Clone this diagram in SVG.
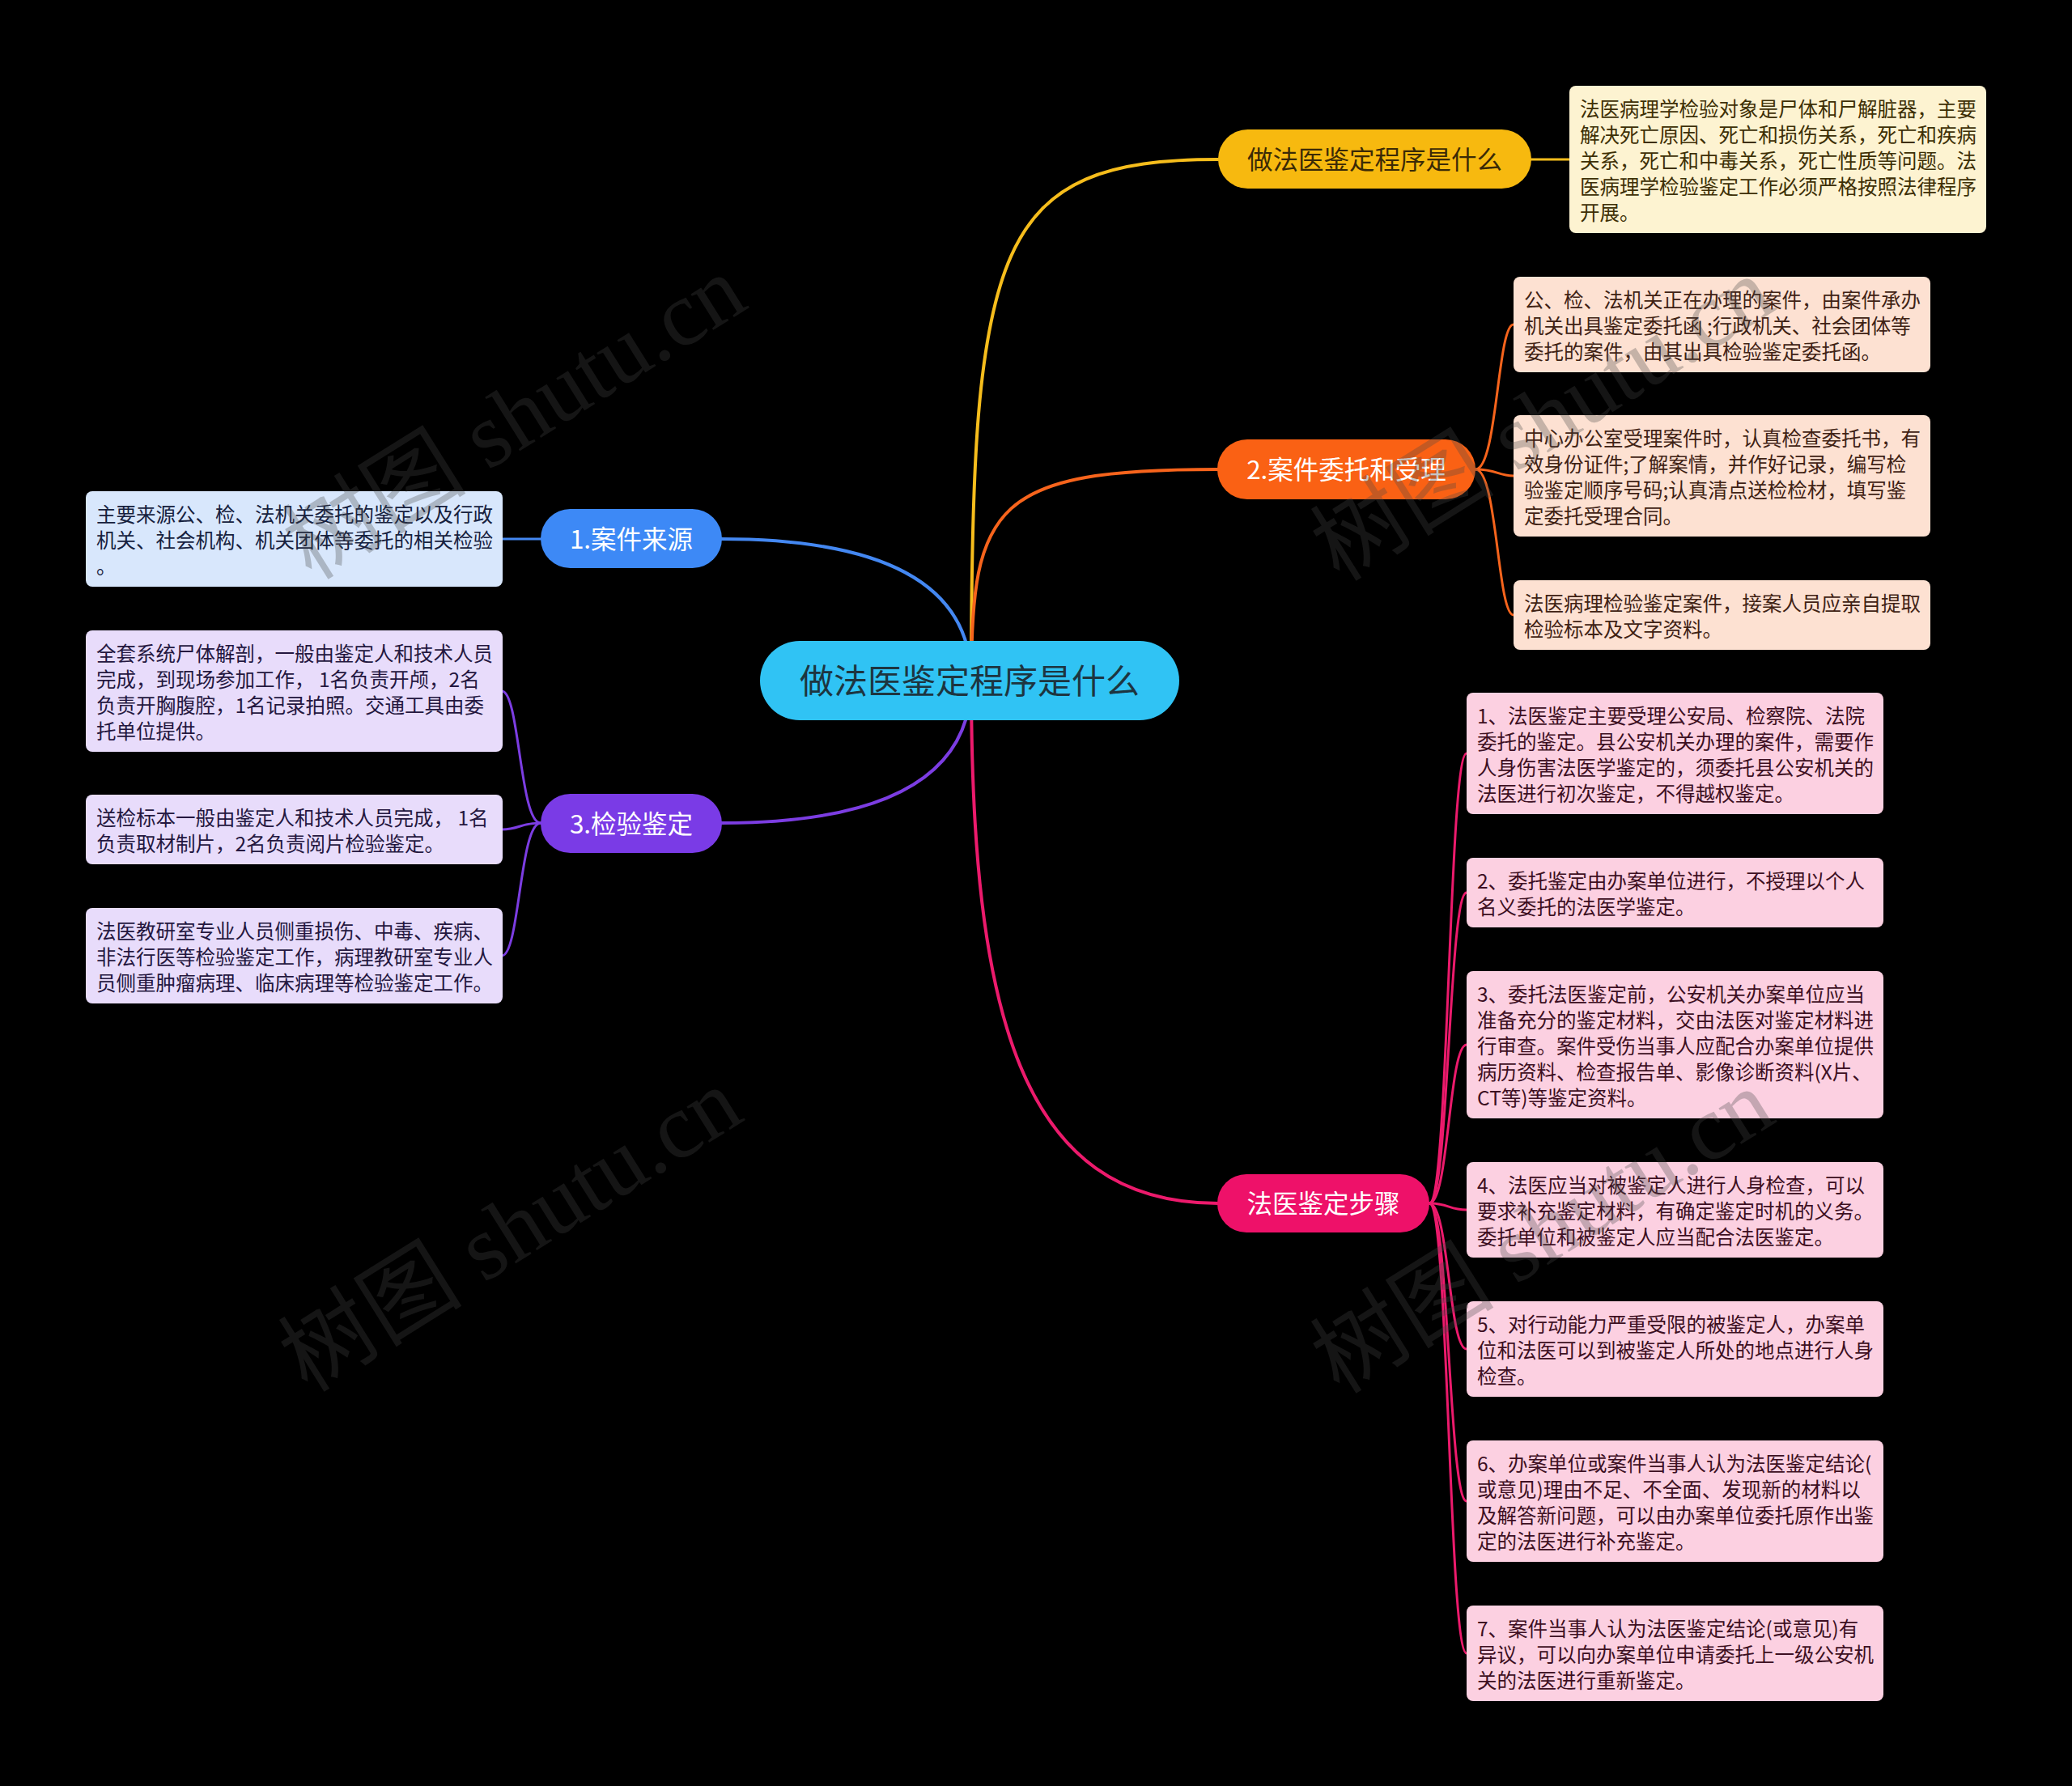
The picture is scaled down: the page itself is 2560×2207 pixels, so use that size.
<svg xmlns="http://www.w3.org/2000/svg" width="2560" height="2207" viewBox="0 0 2560 2207">
<style>
.t{font-family:"Noto Sans CJK SC","Liberation Sans",sans-serif;font-size:24.5px}
.pt{font-family:"Noto Sans CJK SC","Liberation Sans",sans-serif;font-size:31.5px;text-anchor:middle}
.c{fill:none;stroke-linecap:round}
.m{stroke-width:4}
.l{stroke-width:3}
.wm{font-family:"Liberation Serif","Noto Sans CJK SC",serif;font-size:114px;fill:#474747;opacity:0.3}
</style>
<rect x="0" y="0" width="2560" height="2207" fill="#000"/>
<g id="connectors">
<path class="c m" stroke="#f6bd1c" d="M1200,841 C1200,300 1230,197 1505,197"/>
<path class="c m" stroke="#f7641c" d="M1200,841 C1200,622 1230,580 1505,580"/>
<path class="c m" stroke="#ec1a6c" d="M1200,841 C1200,1250 1260,1487 1505,1487"/>
<path class="c m" stroke="#4488f2" d="M1200,841 Q1200,666 891,666"/>
<path class="c m" stroke="#7c3de2" d="M1200,841 Q1200,1017 891,1017"/>
<path class="c l" stroke="#f6bd1c" d="M1892,197 L1939,197"/>
<path class="c l" stroke="#4488f2" d="M668,666 L620,666"/>
<path class="c l" stroke="#f7641c" d="M1823,580 C1850,580 1850,401 1870,401"/>
<path class="c l" stroke="#f7641c" d="M1823,580 C1850,580 1850,588 1870,588"/>
<path class="c l" stroke="#f7641c" d="M1823,580 C1850,580 1850,760 1870,760"/>
<path class="c l" stroke="#7c3de2" d="M668,1017 C642,1017 642,854 620,854"/>
<path class="c l" stroke="#7c3de2" d="M668,1017 C642,1017 642,1025 620,1025"/>
<path class="c l" stroke="#7c3de2" d="M668,1017 C642,1017 642,1181 620,1181"/>
<path class="c l" stroke="#ec1a6c" d="M1766,1487 C1790,1487 1790,931 1812,931"/>
<path class="c l" stroke="#ec1a6c" d="M1766,1487 C1790,1487 1790,1103 1812,1103"/>
<path class="c l" stroke="#ec1a6c" d="M1766,1487 C1790,1487 1790,1291 1812,1291"/>
<path class="c l" stroke="#ec1a6c" d="M1766,1487 C1790,1487 1790,1495 1812,1495"/>
<path class="c l" stroke="#ec1a6c" d="M1766,1487 C1790,1487 1790,1667 1812,1667"/>
<path class="c l" stroke="#ec1a6c" d="M1766,1487 C1790,1487 1790,1855 1812,1855"/>
<path class="c l" stroke="#ec1a6c" d="M1766,1487 C1790,1487 1790,2043 1812,2043"/>
</g>
<g id="root">
<rect x="939" y="792" width="518" height="98" rx="49" fill="#30c3f4"/>
<text class="pt" x="1198" y="857" style="font-size:42px" fill="#1d3540">做法医鉴定程序是什么</text>
</g>
<g id="b-yellow">
<rect x="1505" y="160" width="387" height="73" rx="36.5" fill="#f7b90f"/>
<text class="pt" x="1698.5" y="208.5" fill="#3b2a06">做法医鉴定程序是什么</text>
</g>
<g id="leaf-yellow">
<rect x="1939" y="106" width="515" height="182" rx="8" fill="#fdf3d1"/>
<text class="t" fill="#3d2f05"><tspan x="1952" y="144">法医病理学检验对象是尸体和尸解脏器，主要</tspan><tspan x="1952" y="176">解决死亡原因、死亡和损伤关系，死亡和疾病</tspan><tspan x="1952" y="208">关系，死亡和中毒关系，死亡性质等问题。法</tspan><tspan x="1952" y="240">医病理学检验鉴定工作必须严格按照法律程序</tspan><tspan x="1952" y="272">开展。</tspan></text>
</g>
<g id="b-orange">
<rect x="1504" y="543" width="319" height="74" rx="37" fill="#fa6114"/>
<text class="pt" x="1663.5" y="592" fill="#fff">2.案件委托和受理</text>
</g>
<g id="leaf-o1">
<rect x="1870" y="342" width="515" height="118" rx="8" fill="#fde1d2"/>
<text class="t" fill="#3f2214"><tspan x="1883" y="380">公、检、法机关正在办理的案件，由案件承办</tspan><tspan x="1883" y="412">机关出具鉴定委托函 ;行政机关、社会团体等</tspan><tspan x="1883" y="444">委托的案件，由其出具检验鉴定委托函。</tspan></text>
</g>
<g id="leaf-o2">
<rect x="1870" y="513" width="515" height="150" rx="8" fill="#fde1d2"/>
<text class="t" fill="#3f2214"><tspan x="1883" y="551">中心办公室受理案件时，认真检查委托书，有</tspan><tspan x="1883" y="583">效身份证件;了解案情，并作好记录，编写检</tspan><tspan x="1883" y="615">验鉴定顺序号码;认真清点送检检材，填写鉴</tspan><tspan x="1883" y="647">定委托受理合同。</tspan></text>
</g>
<g id="leaf-o3">
<rect x="1870" y="717" width="515" height="86" rx="8" fill="#fde1d2"/>
<text class="t" fill="#3f2214"><tspan x="1883" y="755">法医病理检验鉴定案件，接案人员应亲自提取</tspan><tspan x="1883" y="787">检验标本及文字资料。</tspan></text>
</g>
<g id="b-pink">
<rect x="1504" y="1451" width="262" height="72" rx="36" fill="#ee1169"/>
<text class="pt" x="1635" y="1499" fill="#fff">法医鉴定步骤</text>
</g>
<g id="leaf-p1">
<rect x="1812" y="856" width="515" height="150" rx="8" fill="#fcd0e1"/>
<text class="t" fill="#3d0f22"><tspan x="1825" y="894">1、法医鉴定主要受理公安局、检察院、法院</tspan><tspan x="1825" y="926">委托的鉴定。县公安机关办理的案件，需要作</tspan><tspan x="1825" y="958">人身伤害法医学鉴定的，须委托县公安机关的</tspan><tspan x="1825" y="990">法医进行初次鉴定，不得越权鉴定。</tspan></text>
</g>
<g id="leaf-p2">
<rect x="1812" y="1060" width="515" height="86" rx="8" fill="#fcd0e1"/>
<text class="t" fill="#3d0f22"><tspan x="1825" y="1098">2、委托鉴定由办案单位进行，不授理以个人</tspan><tspan x="1825" y="1130">名义委托的法医学鉴定。</tspan></text>
</g>
<g id="leaf-p3">
<rect x="1812" y="1200" width="515" height="182" rx="8" fill="#fcd0e1"/>
<text class="t" fill="#3d0f22"><tspan x="1825" y="1238">3、委托法医鉴定前，公安机关办案单位应当</tspan><tspan x="1825" y="1270">准备充分的鉴定材料，交由法医对鉴定材料进</tspan><tspan x="1825" y="1302">行审查。案件受伤当事人应配合办案单位提供</tspan><tspan x="1825" y="1334">病历资料、检查报告单、影像诊断资料(X片、</tspan><tspan x="1825" y="1366">CT等)等鉴定资料。</tspan></text>
</g>
<g id="leaf-p4">
<rect x="1812" y="1436" width="515" height="118" rx="8" fill="#fcd0e1"/>
<text class="t" fill="#3d0f22"><tspan x="1825" y="1474">4、法医应当对被鉴定人进行人身检查，可以</tspan><tspan x="1825" y="1506">要求补充鉴定材料，有确定鉴定时机的义务。</tspan><tspan x="1825" y="1538">委托单位和被鉴定人应当配合法医鉴定。</tspan></text>
</g>
<g id="leaf-p5">
<rect x="1812" y="1608" width="515" height="118" rx="8" fill="#fcd0e1"/>
<text class="t" fill="#3d0f22"><tspan x="1825" y="1646">5、对行动能力严重受限的被鉴定人，办案单</tspan><tspan x="1825" y="1678">位和法医可以到被鉴定人所处的地点进行人身</tspan><tspan x="1825" y="1710">检查。</tspan></text>
</g>
<g id="leaf-p6">
<rect x="1812" y="1780" width="515" height="150" rx="8" fill="#fcd0e1"/>
<text class="t" fill="#3d0f22"><tspan x="1825" y="1818">6、办案单位或案件当事人认为法医鉴定结论(</tspan><tspan x="1825" y="1850">或意见)理由不足、不全面、发现新的材料以</tspan><tspan x="1825" y="1882">及解答新问题，可以由办案单位委托原作出鉴</tspan><tspan x="1825" y="1914">定的法医进行补充鉴定。</tspan></text>
</g>
<g id="leaf-p7">
<rect x="1812" y="1984" width="515" height="118" rx="8" fill="#fcd0e1"/>
<text class="t" fill="#3d0f22"><tspan x="1825" y="2022">7、案件当事人认为法医鉴定结论(或意见)有</tspan><tspan x="1825" y="2054">异议，可以向办案单位申请委托上一级公安机</tspan><tspan x="1825" y="2086">关的法医进行重新鉴定。</tspan></text>
</g>
<g id="b-blue">
<rect x="668" y="629" width="224" height="73" rx="36.5" fill="#3d89f6"/>
<text class="pt" x="780" y="678" fill="#fff">1.案件来源</text>
</g>
<g id="leaf-blue">
<rect x="106" y="607" width="515" height="118" rx="8" fill="#d8e7fc"/>
<text class="t" fill="#16213e"><tspan x="119" y="645">主要来源公、检、法机关委托的鉴定以及行政</tspan><tspan x="119" y="677">机关、社会机构、机关团体等委托的相关检验</tspan><tspan x="119" y="709">。</tspan></text>
</g>
<g id="b-purple">
<rect x="668" y="981" width="224" height="73" rx="36.5" fill="#7a3be6"/>
<text class="pt" x="780" y="1029.5" fill="#fff">3.检验鉴定</text>
</g>
<g id="leaf-v1">
<rect x="106" y="779" width="515" height="150" rx="8" fill="#e8dcfb"/>
<text class="t" fill="#24173f"><tspan x="119" y="817">全套系统尸体解剖，一般由鉴定人和技术人员</tspan><tspan x="119" y="849">完成，到现场参加工作， 1名负责开颅，2名</tspan><tspan x="119" y="881">负责开胸腹腔，1名记录拍照。交通工具由委</tspan><tspan x="119" y="913">托单位提供。</tspan></text>
</g>
<g id="leaf-v2">
<rect x="106" y="982" width="515" height="86" rx="8" fill="#e8dcfb"/>
<text class="t" fill="#24173f"><tspan x="119" y="1020">送检标本一般由鉴定人和技术人员完成， 1名</tspan><tspan x="119" y="1052">负责取材制片，2名负责阅片检验鉴定。</tspan></text>
</g>
<g id="leaf-v3">
<rect x="106" y="1122" width="515" height="118" rx="8" fill="#e8dcfb"/>
<text class="t" fill="#24173f"><tspan x="119" y="1160">法医教研室专业人员侧重损伤、中毒、疾病、</tspan><tspan x="119" y="1192">非法行医等检验鉴定工作，病理教研室专业人</tspan><tspan x="119" y="1224">员侧重肿瘤病理、临床病理等检验鉴定工作。</tspan></text>
</g>
<g id="watermark">
<text class="wm" transform="translate(385,718) rotate(-32)">树图 shutu.cn</text>
<text class="wm" transform="translate(380,1722) rotate(-32)">树图 shutu.cn</text>
<text class="wm" transform="translate(1655,720) rotate(-32)">树图 shutu.cn</text>
<text class="wm" transform="translate(1655,1724) rotate(-32)">树图 shutu.cn</text>
</g>
</svg>
